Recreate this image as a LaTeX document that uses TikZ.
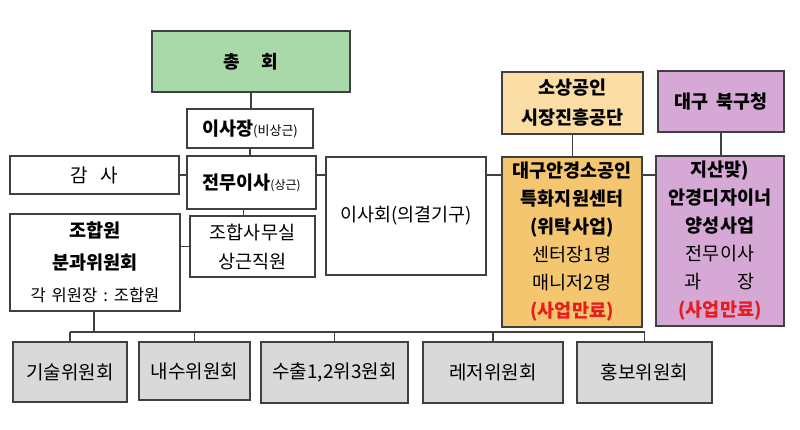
\documentclass[tikz,border=0pt]{standalone}
\usepackage{fontspec}
\setmainfont{Noto Sans CJK KR}
\usetikzlibrary{positioning,calc}

\definecolor{boxline}{RGB}{64,64,64}
\definecolor{hoegreen}{RGB}{169,217,169}
\definecolor{gongdan}{RGB}{250,222,165}
\definecolor{center}{RGB}{245,198,112}
\definecolor{bukgu}{RGB}{214,168,214}
\definecolor{wiwon}{RGB}{217,217,217}
\definecolor{endred}{RGB}{232,28,28}

\begin{document}
\begin{tikzpicture}[x=1pt, y=-1pt,
    box/.style={draw=boxline, line width=1.3pt, rectangle, align=center, inner sep=0pt},
    conn/.style={draw=boxline, line width=1.3pt},
    txt/.style={font=\fontsize{18.5}{28}\selectfont}]
    \useasboundingbox (0,0) rectangle (800,430);

    % General meeting and board chain
    \node[box, fill=hoegreen, minimum width=198pt, minimum height=61pt, font=\bfseries\fontsize{18}{20}\selectfont] (chonghoe) at (251,61.5) {총\hspace{22pt}회};
    \node[box, minimum width=126pt, minimum height=39pt, txt] (isajang) at (250,128.5) {\textbf{이사장}{\fontsize{13}{15}\selectfont(비상근)}};
    \node[box, minimum width=129pt, minimum height=53pt, txt] (jeonmu) at (251.5,182.5) {\textbf{전무이사}{\fontsize{12}{14}\selectfont(상근)}};
    \node[box, minimum width=169pt, minimum height=38pt, font=\fontsize{19}{22}\selectfont] (gamsa) at (94.5,175) {감\hspace{13pt}사};
    \node[box, minimum width=160pt, minimum height=118pt, font=\fontsize{18.5}{20}\selectfont] (isahoe) at (406,216) {이사회(의결기구)};

    % Members and office
    \node[box, minimum width=170pt, minimum height=97pt, font=\fontsize{18.5}{32}\selectfont] (johap) at (95,262.5)
        {\textbf{조합원}\\\textbf{분과위원회}\\{\fontsize{16.5}{18}\selectfont 각\hspace{6pt}위원장\hspace{6pt}:\hspace{6pt}조합원}};
    \node[box, minimum width=125pt, minimum height=61pt, font=\fontsize{18.5}{29}\selectfont] (samusil) at (252.5,246.5) {조합사무실\\상근직원};

    % Outside bodies and projects
    \node[box, fill=gongdan, minimum width=141pt, minimum height=62pt, font=\bfseries\fontsize{18.5}{30}\selectfont] (sosang) at (572.5,103) {소상공인\\시장진흥공단};
    \node[box, fill=bukgu, minimum width=126pt, minimum height=61pt, font=\bfseries\fontsize{18.5}{20}\selectfont] (bukgucheong) at (721,101.5) {대구\hspace{8pt}북구청};
    \node[box, fill=center, minimum width=140pt, minimum height=170pt, txt] (anggyeong) at (572,242)
        {\textbf{대구안경소공인}\\\textbf{특화지원센터}\\\textbf{(위탁사업)}\\센터장1명\\매니저2명\\\textcolor{endred}{\textbf{(사업만료)}}};
    \node[box, fill=bukgu, minimum width=128pt, minimum height=170pt, txt] (jisan) at (720,241)
        {\textbf{지산맞)}\\\textbf{안경디자이너}\\\textbf{양성사업}\\전무이사\\과\hspace{36pt}장\\\textcolor{endred}{\textbf{(사업만료)}}};

    % Committees
    \node[box, fill=wiwon, minimum width=114pt, minimum height=60pt, font=\fontsize{19}{22}\selectfont] (gisul) at (70,372) {기술위원회};
    \node[box, fill=wiwon, minimum width=111pt, minimum height=58pt, font=\fontsize{19}{22}\selectfont] (naesu) at (194.5,371) {내수위원회};
    \node[box, fill=wiwon, minimum width=147pt, minimum height=61pt, font=\fontsize{19}{22}\selectfont] (suchul) at (334.5,372.5) {수출1,2위3원회};
    \node[box, fill=wiwon, minimum width=140pt, minimum height=61pt, font=\fontsize{19}{22}\selectfont] (leisure) at (493,372.5) {레저위원회};
    \node[box, fill=wiwon, minimum width=135pt, minimum height=61pt, font=\fontsize{19}{22}\selectfont] (hongbo) at (644.5,372.5) {홍보위원회};
    \coordinate (bus) at (94,332);

    % Connectors
    \draw[conn] (chonghoe.south) -- (chonghoe.south |- isajang.north);
    \draw[conn] (isajang.south) -- (isajang.south |- jeonmu.north);
    \draw[conn] (gamsa.east) -- (gamsa.east -| jeonmu.west);
    \draw[conn] (jeonmu.east |- gamsa.east) -- (isahoe.west |- gamsa.east);
    \draw[conn] (isahoe.east |- gamsa.east) -- (anggyeong.west |- gamsa.east);
    \draw[conn] (anggyeong.east |- gamsa.east) -- (jisan.west |- gamsa.east);
    \draw[conn] (sosang.south) -- (sosang.south |- anggyeong.north);
    \draw[conn] (bukgucheong.south) -- (bukgucheong.south |- jisan.north);
    \draw[conn] ([xshift=-9pt]samusil.north) -- ([xshift=-9pt]samusil.north |- jeonmu.south);
    \draw[conn] (johap.east |- samusil.west) -- (samusil.west);
    \draw[conn] (johap.south -| bus) -- (bus);
    \draw[conn] (gisul.north |- bus) -- (hongbo.north |- bus);
    \foreach \w in {gisul,naesu,suchul,leisure,hongbo}
        \draw[conn] (\w.north) -- (\w.north |- bus);
\end{tikzpicture}
\end{document}
